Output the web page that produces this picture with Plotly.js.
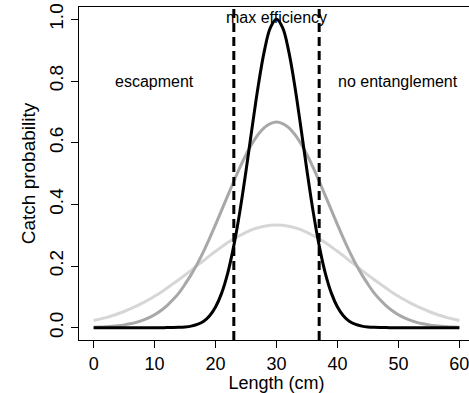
<!DOCTYPE html>
<html>
<head>
<meta charset="utf-8">
<script src="https://cdn.plot.ly/plotly-3.0.1.min.js"></script>
<style>
html, body { margin: 0; padding: 0; overflow: hidden; background: #fff; }
#chart { width: 474px; height: 393px; }
</style>
</head>
<body>
<div id="chart"></div>
<script>
// Length (cm)
const lengths = [0,1,2,3,4,5,6,7,8,9,10,11,12,13,14,15,16,17,18,19,20,21,22,23,24,25,26,27,28,29,30,
  31,32,33,34,35,36,37,38,39,40,41,42,43,44,45,46,47,48,49,50,51,52,53,54,55,56,57,58,59,60];

// Narrow curve (black)
const catchNarrow = [0,0,0,0,0,0,0,0,0,0,0,0.0001,0.0002,0.0004,0.0010,0.0023,0.0050,0.0104,0.020,0.038,0.067,0.112,0.177,0.266,0.378,0.509,0.649,0.784,0.897,0.973,1.000,
  0.973,0.897,0.784,0.649,0.509,0.378,0.266,0.177,0.112,0.067,0.038,0.020,0.0104,0.0050,0.0023,0.0010,0.0004,0.0002,0.0001,0,0,0,0,0,0,0,0,0,0,0];
// Medium curve (grey)
const catchMedium = [0.0013,0.0020,0.0029,0.0043,0.0062,0.0088,0.0124,0.0171,0.0234,0.0315,0.0419,0.0549,0.0709,0.0903,0.113,0.141,0.172,0.207,0.246,0.289,0.334,0.381,0.428,0.475,0.520,0.561,0.597,0.627,0.649,0.662,0.667,
  0.662,0.649,0.627,0.597,0.561,0.520,0.475,0.428,0.381,0.334,0.289,0.246,0.207,0.172,0.141,0.113,0.0903,0.0709,0.0549,0.0419,0.0315,0.0234,0.0171,0.0124,0.0088,0.0062,0.0043,0.0029,0.0020,0.0013];
// Wide curve (light grey)
const catchWide = [0.0232,0.0276,0.0327,0.0385,0.0451,0.0524,0.0606,0.0696,0.0795,0.0903,0.102,0.114,0.128,0.142,0.156,0.171,0.186,0.202,0.217,0.233,0.248,0.262,0.276,0.288,0.299,0.309,0.318,0.324,0.329,0.332,0.333,
  0.332,0.329,0.324,0.318,0.309,0.299,0.288,0.276,0.262,0.248,0.233,0.217,0.202,0.186,0.171,0.156,0.142,0.128,0.114,0.102,0.0903,0.0795,0.0696,0.0606,0.0524,0.0451,0.0385,0.0327,0.0276,0.0232];

// Vertical dashed limits (cm)
const limits = [23, 37];
const limitSpan = [-0.04, 1.04];

// Region labels
const labelText = ["escapment", "max efficiency", "no entanglement"];
const labelX = [10, 30, 50];
const labelY = [0.8, 1.005, 0.8];

const xTicks = [0, 10, 20, 30, 40, 50, 60];
const yTicks = [0, 0.2, 0.4, 0.6, 0.8, 1.0];

const FONT = "'Liberation Sans', Arial, sans-serif";

const traces = [
  {x: lengths, y: catchWide, mode: 'lines', line: {color: '#d6d6d6', width: 3, shape: 'spline'}, hoverinfo: 'skip'},
  {x: lengths, y: catchMedium, mode: 'lines', line: {color: '#a8a8a8', width: 3, shape: 'spline'}, hoverinfo: 'skip'},
  {x: lengths, y: catchNarrow, mode: 'lines', line: {color: '#000000', width: 3, shape: 'spline'}, hoverinfo: 'skip'}
];
limits.forEach(v => {
  traces.push({x: [v, v], y: limitSpan, mode: 'lines', line: {color: '#000000', width: 3, dash: '9px,5px'}, hoverinfo: 'skip'});
});

const annotations = labelText.map((t, i) => ({
  x: labelX[i], y: labelY[i], xref: 'x', yref: 'y', text: t, showarrow: false,
  xanchor: 'center', yanchor: 'middle', font: {family: FONT, size: 16, color: '#000'}
}));

const layout = {
  width: 474, height: 393,
  margin: {l: 79, r: 0, t: 7, b: 53, pad: 0},
  paper_bgcolor: '#fff', plot_bgcolor: '#fff',
  showlegend: false,
  font: {family: FONT, size: 19, color: '#000'},
  xaxis: {
    range: [-2.4, 62.4], tickvals: xTicks, ticktext: xTicks.map(String),
    ticks: 'outside', ticklen: 7, tickwidth: 1, tickcolor: '#000',
    showline: true, mirror: true, linecolor: '#000', linewidth: 1,
    showgrid: false, zeroline: false,
    tickfont: {family: FONT, size: 18, color: '#000'},
    title: {text: 'Length (cm)', font: {family: FONT, size: 18, color: '#000'}, standoff: 8}
  },
  yaxis: {
    range: [-0.04, 1.04], tickvals: yTicks, ticktext: yTicks.map(v => v.toFixed(1)),
    tickangle: -90,
    ticks: 'outside', ticklen: 7, tickwidth: 1, tickcolor: '#000',
    showline: true, mirror: true, linecolor: '#000', linewidth: 1,
    showgrid: false, zeroline: false,
    tickfont: {family: FONT, size: 19, color: '#000'},
    title: {text: 'Catch probability', font: {family: FONT, size: 19, color: '#000'}, standoff: 5}
  },
  annotations: annotations
};

Plotly.newPlot('chart', traces, layout, {staticPlot: true, displayModeBar: false});
</script>
</body>
</html>
